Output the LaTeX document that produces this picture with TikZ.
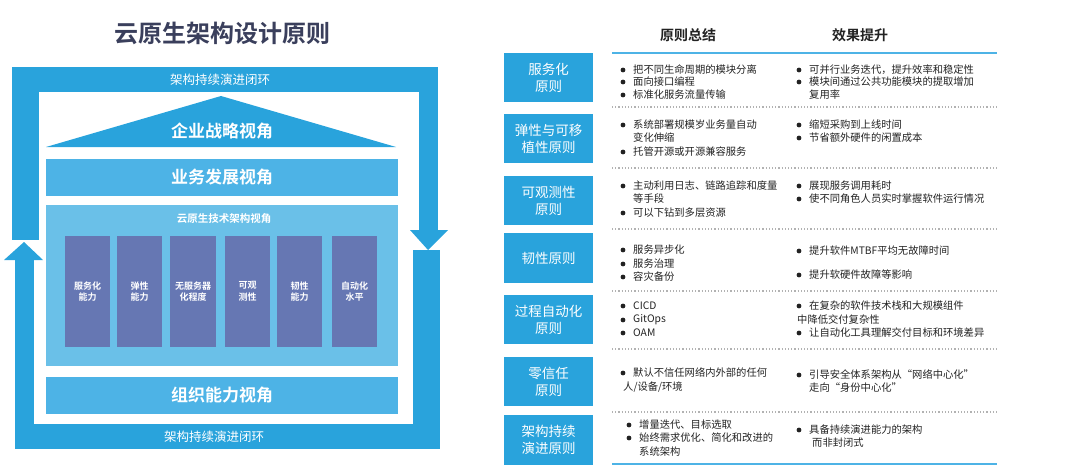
\documentclass[tikz,border=0pt]{standalone}
\usepackage{fontspec}
\setmainfont{Noto Sans CJK SC}
\newfontfamily\cjkb{Noto Sans CJK SC Bold}
\definecolor{cblue}{HTML}{29A3DC}
\definecolor{cblue2}{HTML}{4DB3E6}
\definecolor{cblue3}{HTML}{6AC0E8}
\definecolor{cpurp}{HTML}{6677B3}
\definecolor{navy}{HTML}{3A3F5C}
\definecolor{txt}{HTML}{222222}
\newcommand\Tl[3]{\node[tx] at (#1,#2) {#3};}
\newcommand\Bl[3]{\fill[txt] (#1-10,#2) circle (2.4); \node[tx] at (#1,#2) {#3};}
\begin{document}
\begin{tikzpicture}[x=1pt,y=-1pt,
  tx/.style={anchor=west,inner sep=0,text=txt,font=\fontsize{10.3}{12}\selectfont},
  lbox/.style={fill=cblue,text=white,align=center,font=\fontsize{13.5}{17}\selectfont,inner sep=0},
  col/.style={fill=cpurp,text=white,align=center,font=\fontsize{9}{11.5}\selectfont\cjkb,inner sep=0},
  sep/.style={gray!60,dotted,line width=1.2pt}]
\useasboundingbox (0,0) rectangle (1067,476);
% title
\node[font=\fontsize{24}{28}\selectfont\cjkb,text=navy] (title) at (222,33) {云原生架构设计原则};
% loop
\fill[cblue] (12,67) rectangle (438,92);
\fill[cblue] (12,67) rectangle (39,240);
\fill[cblue] (419,67) rectangle (438,230);
\fill[cblue] (410,230) -- (448,230) -- (428,250) -- cycle;
\fill[cblue] (413,250) rectangle (440,449);
\fill[cblue] (15,424) rectangle (440,449);
\fill[cblue] (15,260) rectangle (34,449);
\fill[cblue] (4,260) -- (43,260) -- (24,242) -- cycle;
\node[text=white,font=\fontsize{12.5}{14}\selectfont] (looptop) at (220,80) {架构持续演进闭环};
\node[text=white,font=\fontsize{12.5}{14}\selectfont] (loopbot) at (214,437) {架构持续演进闭环};
% house
\fill[cblue] (46,147) -- (221,96) -- (396,147) -- cycle;
\node[text=white,font=\fontsize{17}{19}\selectfont\cjkb] (roof) at (222,131) {企业战略视角};
\node[fill=cblue2,minimum width=352,minimum height=37,inner sep=0,text=white,font=\fontsize{17}{19}\selectfont\cjkb] (biz) at (222,177.5) {业务发展视角};
\fill[cblue3] (46,205) rectangle (398,366);
\node[text=white,font=\fontsize{10.5}{12}\selectfont\cjkb] (tech) at (224,219) {云原生技术架构视角};
\node[col,minimum width=45,minimum height=111] (c1) at (87.5,291.5) {服务化\\能力};
\node[col,minimum width=45,minimum height=111] (c2) at (139.5,291.5) {弹性\\能力};
\node[col,minimum width=46,minimum height=111] (c3) at (193,291.5) {无服务器\\化程度};
\node[col,minimum width=45,minimum height=111] (c4) at (247.5,291.5) {可观\\测性};
\node[col,minimum width=45,minimum height=111] (c5) at (299.5,291.5) {韧性\\能力};
\node[col,minimum width=45,minimum height=111] (c6) at (354.5,291.5) {自动化\\水平};
\node[fill=cblue2,minimum width=352,minimum height=37,inner sep=0,text=white,font=\fontsize{17}{19}\selectfont\cjkb] (org) at (222,395.5) {组织能力视角};
% right table
\node[font=\fontsize{14}{16}\selectfont\cjkb,text=txt] (h1) at (688,35) {原则总结};
\node[font=\fontsize{14}{16}\selectfont\cjkb,text=txt] (h2) at (860,35) {效果提升};
\draw[cblue2,line width=2pt] (612,53) -- (997,53);
\draw[cblue2,line width=2pt] (612,464) -- (997,464);
\foreach \y in {107,168,229,291,349,412} \draw[sep] (612,\y) -- (997,\y);
\node[lbox,minimum width=89,minimum height=49] (p1) at (548.5,77.5) {服务化\\原则};
\node[lbox,minimum width=89,minimum height=49] (p2) at (548.5,138.5) {弹性与可移\\植性原则};
\node[lbox,minimum width=89,minimum height=49] (p3) at (548.5,200.5) {可观测性\\原则};
\node[lbox,minimum width=89,minimum height=50] (p4) at (548.5,258) {韧性原则};
\node[lbox,minimum width=89,minimum height=49] (p5) at (548.5,319.5) {过程自动化\\原则};
\node[lbox,minimum width=89,minimum height=49] (p6) at (548.5,381.5) {零信任\\原则};
\node[lbox,minimum width=89,minimum height=50] (p7) at (548.5,440) {架构持续\\演进原则};
% row1
\Bl{633}{70}{把不同生命周期的模块分离}
\Bl{633}{82}{面向接口编程}
\Bl{633}{95}{标准化服务流量传输}
\Bl{809}{70}{可并行业务迭代，提升效率和稳定性}
\Bl{809}{82}{模块间通过公共功能模块的提取增加}
\Tl{809}{95}{复用率}
% row2
\Bl{633}{125}{系统部署规模岁业务量自动}
\Tl{633}{138}{变化伸缩}
\Bl{633}{152}{托管开源或开源兼容服务}
\Bl{809}{125}{缩短采购到上线时间}
\Bl{809}{138}{节省额外硬件的闲置成本}
% row3
\Bl{633}{186}{主动利用日志、链路追踪和度量}
\Tl{633}{199}{等手段}
\Bl{633}{213}{可以下钻到多层资源}
\Bl{809}{186}{展现服务调用耗时}
\Bl{809}{199}{使不同角色人员实时掌握软件运行情况}
% row4
\Bl{633}{250}{服务异步化}
\Bl{633}{264}{服务治理}
\Bl{633}{277}{容灾备份}
\Bl{809}{251}{提升软件MTBF平均无故障时间}
\Bl{809}{275}{提升软硬件故障等影响}
% row5
\Bl{633}{306}{CICD}
\Bl{633}{320}{GitOps}
\Bl{633}{333}{OAM}
\Bl{809}{306}{在复杂的软件技术栈和大规模组件}
\Tl{797}{320}{中降低交付复杂性}
\Bl{809}{333}{让自动化工具理解交付目标和环境差异}
% row6
\Bl{633}{373}{默认不信任网络内外部的任何}
\Tl{623}{387}{人/设备/环境}
\Bl{809}{375}{引导安全体系架构从“网络中心化”}
\Tl{809}{388}{走向“身份中心化”}
% row7
\Bl{639}{425}{增量迭代、目标选取}
\Bl{639}{438}{始终需求优化、简化和改进的}
\Tl{639}{452}{系统架构}
\Bl{809}{430}{具备持续演进能力的架构}
\Tl{812}{443}{而非封闭式}
\end{tikzpicture}
\end{document}
